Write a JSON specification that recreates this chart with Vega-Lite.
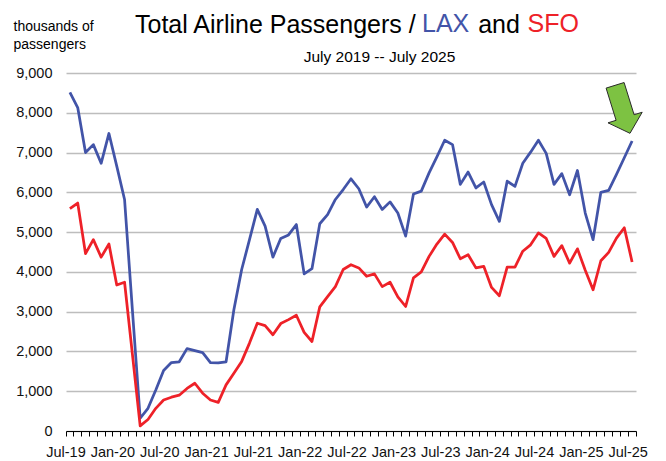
{
  "$schema": "https://vega.github.io/schema/vega-lite/v6.json",
  "width": 570,
  "height": 358,
  "autosize": {"type": "none"},
  "padding": {"left": 66, "top": 73, "right": 30, "bottom": 30},
  "background": "white",
  "title": {
    "text": "Total Airline Passengers /\u00a0\u00a0\u00a0\u00a0\u00a0\u00a0\u00a0\u00a0\u00a0and",
    "anchor": "start",
    "frame": "group",
    "dx": 69,
    "dy": 46,
    "offset": 0,
    "font": "Liberation Sans",
    "fontSize": 25,
    "fontWeight": "normal",
    "color": "#000000",
    "baseline": "alphabetic"
  },
  "data": {
    "values": [
      {"month": "Jul-19", "LAX": 8510, "SFO": 5590},
      {"month": "Aug-19", "LAX": 8130, "SFO": 5730},
      {"month": "Sep-19", "LAX": 7000, "SFO": 4460},
      {"month": "Oct-19", "LAX": 7200, "SFO": 4810},
      {"month": "Nov-19", "LAX": 6730, "SFO": 4370},
      {"month": "Dec-19", "LAX": 7480, "SFO": 4700},
      {"month": "Jan-20", "LAX": 6660, "SFO": 3670},
      {"month": "Feb-20", "LAX": 5820, "SFO": 3740},
      {"month": "Mar-20", "LAX": 3050, "SFO": 1940},
      {"month": "Apr-20", "LAX": 320, "SFO": 130},
      {"month": "May-20", "LAX": 570, "SFO": 290},
      {"month": "Jun-20", "LAX": 1030, "SFO": 570},
      {"month": "Jul-20", "LAX": 1520, "SFO": 780},
      {"month": "Aug-20", "LAX": 1720, "SFO": 850},
      {"month": "Sep-20", "LAX": 1740, "SFO": 900},
      {"month": "Oct-20", "LAX": 2070, "SFO": 1070},
      {"month": "Nov-20", "LAX": 2020, "SFO": 1200},
      {"month": "Dec-20", "LAX": 1970, "SFO": 950},
      {"month": "Jan-21", "LAX": 1720, "SFO": 780},
      {"month": "Feb-21", "LAX": 1710, "SFO": 720},
      {"month": "Mar-21", "LAX": 1740, "SFO": 1160},
      {"month": "Apr-21", "LAX": 3050, "SFO": 1450},
      {"month": "May-21", "LAX": 4060, "SFO": 1750},
      {"month": "Jun-21", "LAX": 4810, "SFO": 2210},
      {"month": "Jul-21", "LAX": 5570, "SFO": 2710},
      {"month": "Aug-21", "LAX": 5150, "SFO": 2650},
      {"month": "Sep-21", "LAX": 4370, "SFO": 2420},
      {"month": "Oct-21", "LAX": 4840, "SFO": 2700},
      {"month": "Nov-21", "LAX": 4930, "SFO": 2800},
      {"month": "Dec-21", "LAX": 5190, "SFO": 2910},
      {"month": "Jan-22", "LAX": 3950, "SFO": 2480},
      {"month": "Feb-22", "LAX": 4080, "SFO": 2250},
      {"month": "Mar-22", "LAX": 5210, "SFO": 3120},
      {"month": "Apr-22", "LAX": 5440, "SFO": 3380},
      {"month": "May-22", "LAX": 5820, "SFO": 3630},
      {"month": "Jun-22", "LAX": 6070, "SFO": 4060},
      {"month": "Jul-22", "LAX": 6340, "SFO": 4180},
      {"month": "Aug-22", "LAX": 6090, "SFO": 4100},
      {"month": "Sep-22", "LAX": 5630, "SFO": 3890},
      {"month": "Oct-22", "LAX": 5890, "SFO": 3950},
      {"month": "Nov-22", "LAX": 5570, "SFO": 3630},
      {"month": "Dec-22", "LAX": 5760, "SFO": 3740},
      {"month": "Jan-23", "LAX": 5480, "SFO": 3370},
      {"month": "Feb-23", "LAX": 4900, "SFO": 3130},
      {"month": "Mar-23", "LAX": 5960, "SFO": 3850},
      {"month": "Apr-23", "LAX": 6030, "SFO": 4000},
      {"month": "May-23", "LAX": 6490, "SFO": 4390},
      {"month": "Jun-23", "LAX": 6890, "SFO": 4700},
      {"month": "Jul-23", "LAX": 7310, "SFO": 4950},
      {"month": "Aug-23", "LAX": 7200, "SFO": 4740},
      {"month": "Sep-23", "LAX": 6200, "SFO": 4330},
      {"month": "Oct-23", "LAX": 6510, "SFO": 4430},
      {"month": "Nov-23", "LAX": 6110, "SFO": 4100},
      {"month": "Dec-23", "LAX": 6260, "SFO": 4140},
      {"month": "Jan-24", "LAX": 5690, "SFO": 3610},
      {"month": "Feb-24", "LAX": 5270, "SFO": 3400},
      {"month": "Mar-24", "LAX": 6280, "SFO": 4120},
      {"month": "Apr-24", "LAX": 6150, "SFO": 4120},
      {"month": "May-24", "LAX": 6730, "SFO": 4520},
      {"month": "Jun-24", "LAX": 7010, "SFO": 4680},
      {"month": "Jul-24", "LAX": 7310, "SFO": 4980},
      {"month": "Aug-24", "LAX": 6980, "SFO": 4840},
      {"month": "Sep-24", "LAX": 6200, "SFO": 4390},
      {"month": "Oct-24", "LAX": 6470, "SFO": 4660},
      {"month": "Nov-24", "LAX": 5940, "SFO": 4220},
      {"month": "Dec-24", "LAX": 6550, "SFO": 4580},
      {"month": "Jan-25", "LAX": 5480, "SFO": 4040},
      {"month": "Feb-25", "LAX": 4810, "SFO": 3550},
      {"month": "Mar-25", "LAX": 6000, "SFO": 4280},
      {"month": "Apr-25", "LAX": 6050, "SFO": 4490},
      {"month": "May-25", "LAX": 6450, "SFO": 4850},
      {"month": "Jun-25", "LAX": 6870, "SFO": 5110},
      {"month": "Jul-25", "LAX": 7290, "SFO": 4250}
    ]
  },
  "resolve": {"axis": {"x": "independent", "y": "independent"}},
  "layer": [
    {
      "mark": {"type": "line", "color": "#4254A8", "strokeWidth": 2.75, "strokeJoin": "round"},
      "encoding": {
        "x": {
          "field": "month", "type": "ordinal", "sort": null, "bandPosition": 0.5,
          "scale": {"type": "band", "paddingInner": 0, "paddingOuter": 0},
          "axis": {
            "orient": "bottom",
            "bandPosition": 1,
            "tickExtra": true,
            "labelOffset": -3.9,
            "labelAngle": 0,
            "labelOverlap": false,
            "labelExpr": "slice(datum.label, 0, 3) == 'Jul' || slice(datum.label, 0, 3) == 'Jan' ? datum.label : ''",
            "labelFont": "Liberation Sans",
            "labelFontSize": 14.5,
            "labelColor": "#111111",
            "labelPadding": 9,
            "ticks": true,
            "tickSize": 5,
            "tickColor": "#000000",
            "tickWidth": 1,
            "domain": true,
            "domainColor": "#000000",
            "domainWidth": 1.2,
            "grid": false,
            "title": "July 2019 -- July 2025",
            "titleFont": "Liberation Sans",
            "titleFontSize": 15.5,
            "titleFontWeight": "normal",
            "titleColor": "#000000",
            "titleX": 313,
            "titleY": -370,
            "titleAlign": "center",
            "titleBaseline": "alphabetic"
          }
        },
        "y": {
          "field": "LAX", "type": "quantitative",
          "scale": {"domain": [0, 9000], "nice": false},
          "axis": {
            "orient": "left",
            "values": [0, 1000, 2000, 3000, 4000, 5000, 6000, 7000, 8000, 9000],
            "format": ",.0f",
            "grid": true,
            "gridColor": "#bdbdbd",
            "gridWidth": 1.3,
            "domain": false,
            "ticks": false,
            "tickSize": 0,
            "labelPadding": 14,
            "labelFont": "Liberation Sans",
            "labelFontSize": 14.5,
            "labelColor": "#111111",
            "title": ["thousands of", "passengers"],
            "titleFont": "Liberation Sans",
            "titleFontSize": 14,
            "titleFontWeight": "normal",
            "titleColor": "#000000",
            "titleAngle": 0,
            "titleAlign": "left",
            "titleBaseline": "alphabetic",
            "titleLineHeight": 18,
            "titleX": -53,
            "titleY": -43
          }
        }
      }
    },
    {
      "mark": {"type": "line", "color": "#EE2128", "strokeWidth": 2.75, "strokeJoin": "round"},
      "encoding": {
        "x": {
          "field": "month", "type": "ordinal", "sort": null, "bandPosition": 0.5,
          "scale": {"type": "band", "paddingInner": 0, "paddingOuter": 0},
          "axis": {
            "orient": "top",
            "domain": false,
            "ticks": false,
            "labels": false,
            "grid": false,
            "title": "LAX",
            "titleFont": "Liberation Sans",
            "titleFontSize": 25,
            "titleFontWeight": "normal",
            "titleColor": "#4254A8",
            "titleX": 355.5,
            "titleY": -41.3,
            "titleAlign": "left",
            "titleBaseline": "alphabetic"
          }
        },
        "y": {
          "field": "SFO", "type": "quantitative",
          "axis": {
            "orient": "right",
            "domain": false,
            "ticks": false,
            "labels": false,
            "grid": false,
            "title": "SFO",
            "titleFont": "Liberation Sans",
            "titleFontSize": 25,
            "titleFontWeight": "normal",
            "titleColor": "#EE2128",
            "titleAngle": 0,
            "titleX": -109,
            "titleY": -41.3,
            "titleAlign": "left",
            "titleBaseline": "alphabetic"
          }
        }
      }
    },
    {
      "mark": {
        "type": "point",
        "shape": "M -0.52 -1.058 L -0.16 -1.17 L 0.04 -0.526 L 0.202 -0.576 L -0.042 -0.154 L -0.482 -0.364 L -0.32 -0.414 Z",
        "size": 10000,
        "filled": true,
        "fill": "#7DC242",
        "stroke": "#2a2a2a",
        "strokeWidth": 1
      },
      "encoding": {
        "x": {"field": "month", "type": "ordinal", "sort": null, "bandPosition": 0.5, "axis": null},
        "y": {"field": "LAX", "type": "quantitative", "axis": null},
        "opacity": {"condition": {"test": "datum.month == 'Jul-25'", "value": 1}, "value": 0}
      }
    }
  ],
  "config": {
    "view": {"stroke": null}
  }
}
